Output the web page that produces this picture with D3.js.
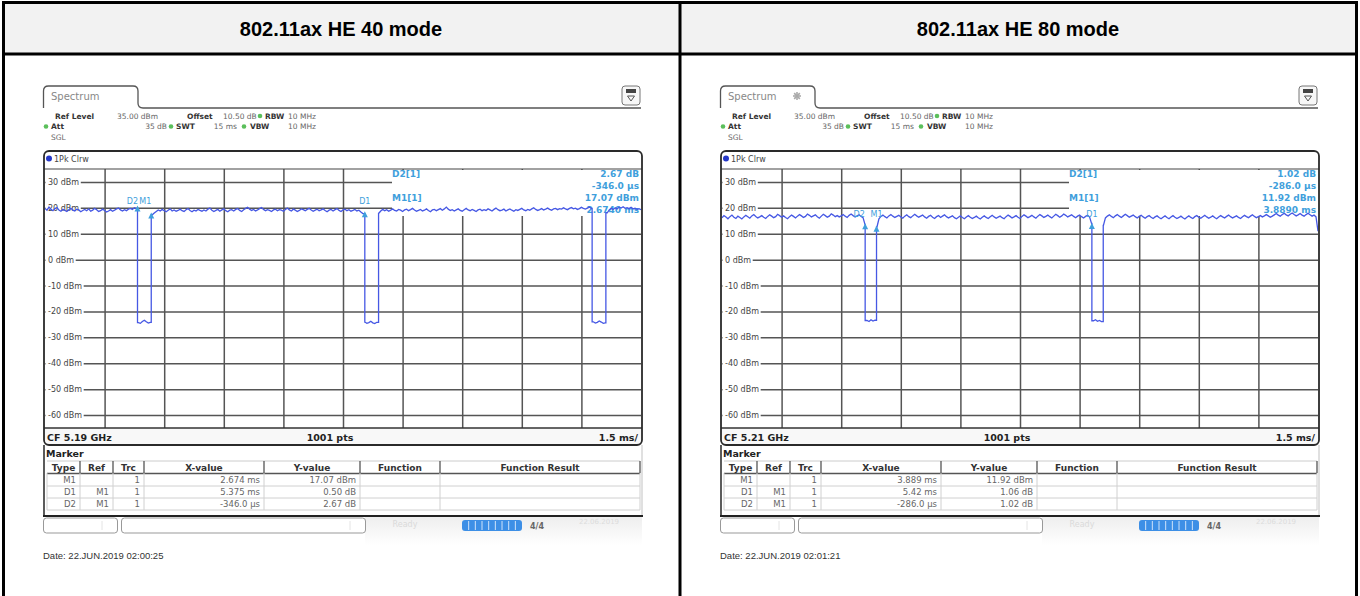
<!DOCTYPE html>
<html><head><meta charset="utf-8">
<script src="https://cdn.jsdelivr.net/npm/d3@7"></script>
<style>body{margin:0;background:#fff}svg{display:block}</style>
</head><body><svg id="c" width="1360" height="596"></svg>
<script>
// ---------------- DATA ----------------
const panelTitles = ["802.11ax HE 40 mode", "802.11ax HE 80 mode"];
const centerFreqs = ["CF 5.19 GHz", "CF 5.21 GHz"];
const pointsLabel = "1001 pts";
const timeDivLabel = "1.5 ms/";
const dateLabels = ["Date: 22.JUN.2019 02:00:25", "Date: 22.JUN.2019 02:01:21"];
const statusDates = ["22.06.2019", "22.06.2019"];
const traceLabel = "1Pk Clrw";
const settingsRow1 = [["Ref Level", "35.00 dBm"], ["Offset", "10.50 dB"], ["RBW", "10 MHz"]];
const settingsRow2 = [["Att", "35 dB"], ["SWT", "15 ms"], ["VBW", "10 MHz"]];
const sweepMs = 15;
const timeDivMs = 1.5;
const refLevelDbm = 35;
const bottomLevelDbm = -65;
const yTicks = [30, 20, 10, 0, -10, -20, -30, -40, -50, -60];
const tableHeaders = ["Type", "Ref", "Trc", "X-value", "Y-value", "Function", "Function Result"];
const markerTypes = ["M1", "D1", "D2"];
const markerRefs = ["", "M1", "M1"];
const markerTrcs = ["1", "1", "1"];
const markerXLeft = ["2.674 ms", "5.375 ms", "-346.0 µs"];
const markerYLeft = ["17.07 dBm", "0.50 dB", "2.67 dB"];
const markerXRight = ["3.889 ms", "5.42 ms", "-286.0 µs"];
const markerYRight = ["11.92 dBm", "1.06 dB", "1.02 dB"];
const markerMsLeft = [2.674, 5.375, -0.346];   // M1 absolute, D1/D2 relative to M1
const markerDbLeft = [17.07, 0.50, 2.67];
const markerMsRight = [3.889, 5.42, -0.286];
const markerDbRight = [11.92, 1.06, 1.02];
const infoLabels = ["D2[1]", "M1[1]"];
const infoLeft = ["2.67 dB", "-346.0 µs", "17.07 dBm", "2.6740 ms"];
const infoRight = ["1.02 dB", "-286.0 µs", "11.92 dBm", "3.8890 ms"];
const gapsLeft = [[2.328, 2.674], [8.049, 8.395], [13.770, 14.116]];
const gapsRight = [[3.603, 3.889], [9.309, 9.595]];
const traceStepMs = 0.05;
const traceLeft = [
19.8,19.1,20.3,19.5,18.9,19.7,20.1,19.2,18.7,19.4,19.0,18.6,19.3,19.9,19.1,18.8,19.5,19.2,18.5,19.0,
19.4,18.9,19.6,18.7,19.1,19.8,19.3,18.6,18.9,19.5,19.0,18.4,18.8,19.3,18.7,19.1,19.6,19.9,19.2,18.8,
19.3,18.9,19.5,19.8,19.4,20.0,19.7,-24.3,-24.6,-23.9,-23.4,-24.0,-24.5,-24.2,17.3,18.0,18.6,19.2,18.8,19.4,
18.9,18.5,19.1,19.6,18.8,19.2,18.7,19.0,19.5,18.9,18.6,19.3,19.7,19.0,18.5,19.1,18.8,19.4,19.0,18.7,
19.2,18.8,19.5,19.9,19.1,18.6,19.0,19.4,18.7,19.2,19.6,18.9,18.5,19.1,19.3,18.8,19.4,19.7,19.0,18.6,
19.3,19.8,20.2,19.5,19.0,19.4,18.8,19.2,19.7,20.1,19.4,18.9,19.3,19.0,18.6,19.2,19.5,18.9,19.3,19.1,
18.7,19.4,19.9,19.2,18.8,19.5,19.1,18.6,19.0,19.6,19.3,18.9,19.4,19.8,19.2,18.7,19.1,19.5,18.9,19.2,
19.6,19.0,18.5,19.1,19.4,18.8,19.3,19.7,19.0,18.6,19.2,19.5,18.9,19.3,18.7,19.0,19.4,18.8,19.1,18.4,
17.8,-24.1,-24.6,-24.3,-23.8,-24.4,-24.7,-24.2,17.9,18.8,19.4,18.9,19.3,18.7,19.1,19.6,19.0,18.8,19.4,19.1,
18.6,19.2,19.5,18.9,19.3,19.8,19.2,18.7,19.0,19.4,18.8,19.1,19.6,19.0,18.5,19.2,19.4,18.9,19.3,19.7,
19.1,19.6,20.3,19.5,19.0,19.3,18.8,19.2,19.6,19.0,18.7,19.3,19.8,19.2,18.9,19.4,19.0,18.6,19.2,19.5,
18.9,19.3,19.0,19.6,19.2,18.8,19.4,19.9,19.3,18.9,19.1,19.5,18.8,19.2,19.6,19.1,18.7,19.3,19.0,19.4,
19.8,19.2,18.9,19.4,19.1,19.6,20.0,19.4,19.0,19.3,19.7,19.2,19.5,19.9,19.4,19.1,19.6,19.8,19.3,19.7,
19.5,20.0,19.6,19.3,19.8,20.1,19.6,19.9,19.4,19.7,20.2,19.8,19.5,19.9,20.3,19.8,-24.0,-24.5,-24.2,-23.7,
-24.1,-24.6,-24.4,18.1,19.2,19.8,19.4,20.0,19.6,20.3,19.9,20.4,19.8,20.1,19.7,20.2,19.6,19.9,19.4,19.7,
19.3];
const traceRight = [
16.2,17.0,16.5,15.8,16.6,17.2,16.4,15.9,16.8,16.3,15.7,16.5,17.1,16.6,16.0,16.9,17.4,16.7,16.1,16.5,
17.0,16.4,15.9,16.7,17.3,16.8,16.2,16.6,17.5,17.0,16.4,16.9,16.3,15.8,16.6,17.2,16.7,16.1,16.8,17.4,
16.9,16.3,16.7,17.6,17.1,16.5,16.9,17.3,16.6,16.0,16.8,17.5,17.0,16.4,16.8,17.7,17.2,16.6,17.0,16.5,
16.9,17.4,16.8,16.3,17.1,17.6,17.0,16.5,16.9,17.3,16.7,16.2,13.5,-23.5,-23.9,-23.2,-23.7,-23.4,12.6,15.8,
16.7,17.2,16.6,16.1,16.9,17.4,16.8,16.3,16.7,17.1,16.5,16.0,16.8,17.3,16.6,16.2,16.9,17.5,16.9,16.4,
16.8,17.2,16.5,16.0,16.7,17.1,16.4,15.9,16.6,17.0,16.3,16.8,17.3,16.6,16.1,16.5,16.9,16.2,15.8,16.4,
16.9,16.3,15.8,16.5,17.0,16.4,15.9,16.3,16.8,16.2,15.7,16.4,16.9,16.3,15.9,16.6,17.1,16.5,16.0,16.4,
16.8,16.2,15.8,16.6,17.2,16.7,16.1,16.5,17.0,16.4,15.9,16.7,17.3,16.8,16.2,16.6,17.1,16.5,16.0,16.8,
17.4,16.9,16.3,16.7,17.2,16.6,16.1,16.8,17.5,17.0,16.4,16.9,17.6,17.1,16.5,16.9,17.3,16.7,16.2,16.8,
17.2,16.6,16.1,16.7,17.1,16.5,14.0,-23.6,-23.2,-23.8,-23.5,-23.9,13.2,16.1,16.8,17.3,16.7,16.2,16.9,17.4,
16.8,16.3,16.9,17.5,17.0,16.4,16.8,17.2,16.6,16.1,16.7,17.1,16.5,16.0,16.6,17.0,16.4,15.9,16.5,16.9,
16.3,15.8,16.4,16.9,16.3,15.8,16.5,17.0,16.4,15.9,16.3,16.8,16.2,15.7,16.4,16.9,16.3,15.9,16.6,17.0,
16.4,16.0,16.6,17.1,16.5,16.0,16.4,16.9,16.3,15.8,16.5,17.0,16.5,16.1,16.7,17.2,16.6,16.1,16.5,16.9,
16.3,15.9,16.6,17.1,16.6,16.2,16.8,17.3,16.7,16.2,16.6,17.0,16.5,16.9,17.4,16.9,16.4,16.8,17.3,17.8,
17.2,16.8,17.4,17.9,17.3,16.9,17.5,18.0,17.4,16.9,17.3,17.8,17.2,16.8,17.4,17.9,17.3,16.8,17.2,16.5,
11.0];

const panels = [
  {dx: 0, title: panelTitles[0], cf: centerFreqs[0], date: dateLabels[0], sdate: statusDates[0], levels: traceLeft, gaps: gapsLeft,
   ms: markerMsLeft, db: markerDbLeft, xv: markerXLeft, yv: markerYLeft, info: infoLeft, star: false, labelDx: [-6, 0, -5]},
  {dx: 677, title: panelTitles[1], cf: centerFreqs[1], date: dateLabels[1], sdate: statusDates[1], levels: traceRight, gaps: gapsRight,
   ms: markerMsRight, db: markerDbRight, xv: markerXRight, yv: markerYRight, info: infoRight, star: true, labelDx: [0, 0, -6]}
];

// ---------------- DRAW ----------------
const svg = d3.select("#c");
const UI = '"DejaVu Sans", Verdana, sans-serif';
const ARIAL = '"Liberation Sans", Arial, sans-serif';
const BLUE = "#3f9fdc";
const TRACE = "#4658e4";

function txt(g, x, y, s, o = {}) {
  return g.append("text").attr("x", x).attr("y", y).text(s)
    .attr("font-family", o.ff || UI).attr("font-size", o.fs || 8)
    .attr("font-weight", o.fw || "normal").attr("fill", o.fill || "#444")
    .attr("text-anchor", o.anchor || "start").attr("dominant-baseline", "central");
}

// outer table
svg.append("rect").attr("width", 1360).attr("height", 596).attr("fill", "#fff");
svg.append("rect").attr("x", 3).attr("y", 3).attr("width", 1354).attr("height", 50).attr("fill", "#f2f2f2");
const bl = svg.append("g").attr("stroke", "#000").attr("stroke-width", 3);
bl.append("line").attr("x1", 2).attr("x2", 1358).attr("y1", 2.5).attr("y2", 2.5);
bl.append("line").attr("x1", 2).attr("x2", 1358).attr("y1", 54).attr("y2", 54);
bl.append("line").attr("x1", 3.5).attr("x2", 3.5).attr("y1", 1).attr("y2", 596);
bl.append("line").attr("x1", 680).attr("x2", 680).attr("y1", 1).attr("y2", 596);
bl.append("line").attr("x1", 1356.5).attr("x2", 1356.5).attr("y1", 1).attr("y2", 596);

panels.forEach((p, pi) => {
  txt(svg, pi === 0 ? 341 : 1018, 29, p.title, {ff: ARIAL, fs: 20, fw: "bold", fill: "#000", anchor: "middle"});

  const g = svg.append("g").attr("transform", `translate(${p.dx},0)`);
  const X0 = 45, X1 = 641, Y0 = 169, Y1 = 428;
  const x = d3.scaleLinear().domain([0, sweepMs]).range([X0, X1]);
  const y = d3.scaleLinear().domain([bottomLevelDbm, refLevelDbm]).range([Y1, Y0]);

  // tab
  g.append("path").attr("d", "M43.5,108 V91 Q43.5,86 48.5,86 H133 Q138,86 138,91 V103 Q138,108 143,108 H641")
    .attr("fill", "none").attr("stroke", "#555").attr("stroke-width", 1.3);
  txt(g, 51, 96, "Spectrum", {fs: 10, fill: "#888"});
  if (p.star) {
    const s = g.append("g").attr("transform", "translate(120,96)").attr("stroke", "#aaa").attr("stroke-width", 1.6);
    [0, 45, 90, 135].forEach(a => s.append("line").attr("x1", -4).attr("x2", 4).attr("transform", `rotate(${a})`));
  }
  // icon
  g.append("rect").attr("x", 622).attr("y", 86).attr("width", 18).attr("height", 19).attr("rx", 3)
    .attr("fill", "#f7f7f7").attr("stroke", "#777");
  g.append("rect").attr("x", 626).attr("y", 89).attr("width", 10).attr("height", 4).attr("fill", "#444");
  g.append("path").attr("d", "M627.5,96 H634.5 L631,101 Z").attr("fill", "none").attr("stroke", "#555");

  // settings
  const dot = (cx, cy) => g.append("circle").attr("cx", cx).attr("cy", cy).attr("r", 2.3).attr("fill", "#5bbf5b");
  const r1 = 116, r2 = 126.5, sf = 7.5;
  const l1 = [55, 187, 265], v1 = [117, 223, 288];
  settingsRow1.forEach((d, i) => { txt(g, l1[i], r1, d[0], {fs: sf, fw: "bold", fill: "#333"}); txt(g, v1[i], r1, d[1], {fs: sf, fill: "#666"}); });
  dot(260, r1);
  const l2 = [51, 176, 250], v2 = [167, 237, 288], a2 = ["end", "end", "start"];
  settingsRow2.forEach((d, i) => { txt(g, l2[i], r2, d[0], {fs: sf, fw: "bold", fill: "#333"}); txt(g, v2[i], r2, d[1], {fs: sf, fill: "#666", anchor: a2[i]}); });
  dot(46, r2); dot(171, r2); dot(244, r2);
  txt(g, 51, 137.5, "SGL", {fs: sf, fill: "#666"});

  // graph area
  g.append("rect").attr("x", 44).attr("y", 151).attr("width", 598).attr("height", 294).attr("fill", "#fff");
  g.append("circle").attr("cx", 49).attr("cy", 158.5).attr("r", 3).attr("fill", "#2638c8");
  txt(g, 54, 159, traceLabel, {fill: "#444"});

  // vertical grid
  const divs = d3.range(timeDivMs, sweepMs - 0.01, timeDivMs);
  const xg = g.append("g").attr("transform", `translate(0,${Y1})`)
    .call(d3.axisBottom(x).tickValues(divs).tickSize(-(Y1 - Y0)).tickFormat(""));
  xg.select(".domain").remove();
  xg.selectAll("line").attr("stroke", "#555").attr("stroke-width", 1.5);

  // horizontal grid with labels
  const yg = g.append("g").attr("transform", `translate(${X0},0)`)
    .call(d3.axisLeft(y).tickValues(yTicks).tickSize(-(X1 - X0)).tickFormat(d => `${d} dBm`));
  yg.select(".domain").remove();
  yg.selectAll("line").attr("stroke", "#555").attr("stroke-width", 1.5);

  g.append("line").attr("x1", 44).attr("x2", 642).attr("y1", Y0).attr("y2", Y0).attr("stroke", "#444").attr("stroke-width", 1.2);

  // marker info box
  g.append("rect").attr("x", 392).attr("y", Y0 + 1).attr("width", X1 - 392).attr("height", 46).attr("fill", "#fff");
  txt(g, 392, 173.5, infoLabels[0], {fw: "bold", fs: 9, fill: BLUE});
  txt(g, 392, 197.5, infoLabels[1], {fw: "bold", fs: 9, fill: BLUE});
  [173.5, 185.5, 197.5, 209.5].forEach((yy, i) => txt(g, 639, yy, p.info[i], {fw: "bold", fs: 9, fill: BLUE, anchor: "end"}));

  // y labels (inside plot, white background)
  yg.selectAll(".tick text").each(function () {
    d3.select(this).attr("x", 3).attr("dy", null).attr("dominant-baseline", "central").attr("text-anchor", "start")
      .attr("font-family", UI).attr("font-size", 8).attr("fill", "#444");
  });
  yg.selectAll(".tick").each(function () {
    const tk = d3.select(this);
    const bb = tk.select("text").node().getBBox();
    tk.insert("rect", "text").attr("x", 0.5).attr("y", bb.y).attr("width", bb.x + bb.width + 1).attr("height", bb.height).attr("fill", "#fff");
  });

  // trace
  const pts = [];
  p.levels.forEach((v, i) => {
    const t = i * traceStepMs;
    if (i > 0) {
      const tp = (i - 1) * traceStepMs;
      p.gaps.forEach(([gs, ge]) => {
        if (gs > tp && gs <= t) { pts.push([gs, p.levels[i - 1]]); pts.push([gs, v]); }
        if (ge > tp && ge <= t) { pts.push([ge, p.levels[i - 1]]); pts.push([ge, v]); }
      });
    }
    pts.push([t, v]);
  });
  const clipId = "clip" + pi;
  g.append("clipPath").attr("id", clipId).append("rect").attr("x", X0).attr("y", Y0).attr("width", X1 - X0).attr("height", Y1 - Y0);
  g.append("path").datum(pts).attr("clip-path", `url(#${clipId})`)
    .attr("d", d3.line().x(d => x(d[0])).y(d => y(d[1])))
    .attr("fill", "none").attr("stroke", TRACE).attr("stroke-width", 1.3);

  // markers on trace
  const mk = [
    {name: "M1", t: p.ms[0], lv: p.db[0]},
    {name: "D1", t: p.ms[0] + p.ms[1], lv: p.db[0] + p.db[1]},
    {name: "D2", t: p.ms[0] + p.ms[2], lv: p.db[0] + p.db[2]}
  ];
  const labelY = y(p.db[0]) - 14;
  mk.forEach((m, i) => {
    const mx = x(m.t), my = y(m.lv);
    g.append("path").attr("d", `M${mx},${my - 3} L${mx + 3},${my + 3} L${mx - 3},${my + 3} Z`).attr("fill", BLUE);
    txt(g, mx + p.labelDx[i], labelY, m.name, {fs: 8, fill: BLUE, anchor: "middle"});
  });

  // bottom grid line & CF bar
  g.append("rect").attr("x", 45).attr("y", Y1).attr("width", 596).attr("height", 16).attr("fill", "#f8f8f8");
  g.append("line").attr("x1", 44).attr("x2", 642).attr("y1", Y1).attr("y2", Y1).attr("stroke", "#333").attr("stroke-width", 1.6);
  txt(g, 47, 437, p.cf, {fw: "bold", fs: 9.5, fill: "#222"});
  txt(g, 330, 437, pointsLabel, {fw: "bold", fs: 9.5, fill: "#222", anchor: "middle"});
  txt(g, 638, 437, timeDivLabel, {fw: "bold", fs: 9.5, fill: "#222", anchor: "end"});

  // graph frame
  g.append("rect").attr("x", 44).attr("y", 151).attr("width", 598).attr("height", 294).attr("rx", 5)
    .attr("fill", "none").attr("stroke", "#2a2a2a").attr("stroke-width", 1.8);

  // marker table
  g.append("line").attr("x1", 44).attr("x2", 44).attr("y1", 445).attr("y2", 516).attr("stroke", "#333").attr("stroke-width", 1.6);
  g.append("line").attr("x1", 642).attr("x2", 642).attr("y1", 445).attr("y2", 516).attr("stroke", "#ccc").attr("stroke-width", 1.2);
  g.append("line").attr("x1", 43).attr("x2", 643).attr("y1", 516).attr("y2", 516).attr("stroke", "#222").attr("stroke-width", 2);
  txt(g, 46, 453.5, "Marker", {fw: "bold", fs: 9.5, fill: "#222"});
  const cols = [47, 80, 113, 144, 264, 360, 440, 640];
  g.append("line").attr("x1", 47).attr("x2", 640).attr("y1", 461).attr("y2", 461).attr("stroke", "#ccc");
  g.append("line").attr("x1", 47).attr("x2", 640).attr("y1", 473.5).attr("y2", 473.5).attr("stroke", "#555").attr("stroke-width", 1.6);
  [486, 498, 510].forEach(yy => g.append("line").attr("x1", 47).attr("x2", 640).attr("y1", yy).attr("y2", yy).attr("stroke", "#d0d0d0"));
  cols.forEach((cx, i) => {
    g.append("line").attr("x1", cx).attr("x2", cx).attr("y1", 473).attr("y2", 510).attr("stroke", "#d0d0d0");
    if (i > 0) g.append("line").attr("x1", cx).attr("x2", cx).attr("y1", 461).attr("y2", 473).attr("stroke", "#555").attr("stroke-width", 1.3);
  });
  tableHeaders.forEach((h, i) => txt(g, (cols[i] + cols[i + 1]) / 2, 467.5, h, {fw: "bold", fs: 9, fill: "#333", anchor: "middle"}));
  const rowsY = [480, 492, 504];
  markerTypes.forEach((m, r) => {
    const cells = [m, markerRefs[r], markerTrcs[r], p.xv[r], p.yv[r]];
    cells.forEach((c, i) => txt(g, cols[i + 1] - 4, rowsY[r], c, {fs: 8.5, fill: "#666", anchor: "end"}));
  });

  // status bar
  const grad = g.append("defs").append("linearGradient").attr("id", "sg" + pi).attr("x1", 0).attr("x2", 0).attr("y1", 0).attr("y2", 1);
  grad.append("stop").attr("offset", 0).attr("stop-color", "#eeeeee");
  grad.append("stop").attr("offset", 1).attr("stop-color", "#ffffff");
  g.append("rect").attr("x", 365).attr("y", 517).attr("width", 277).attr("height", 28).attr("fill", `url(#sg${pi})`);
  g.append("rect").attr("x", 43.5).attr("y", 518).attr("width", 74).attr("height", 15).attr("rx", 3).attr("fill", "#fff").attr("stroke", "#999");
  g.append("rect").attr("x", 121.5).attr("y", 518).attr("width", 244).attr("height", 15).attr("rx", 3).attr("fill", "#fff").attr("stroke", "#999");
  g.append("line").attr("x1", 102).attr("x2", 102).attr("y1", 521).attr("y2", 530).attr("stroke", "#e4e4e4");
  g.append("line").attr("x1", 350).attr("x2", 350).attr("y1", 521).attr("y2", 530).attr("stroke", "#e4e4e4");
  txt(g, 405, 524, "Ready", {fs: 8, fill: "#dadada", anchor: "middle"});
  g.append("rect").attr("x", 462).attr("y", 520).attr("width", 60).attr("height", 11).attr("rx", 3).attr("fill", "#3d8fe6");
  d3.range(1, 9).forEach(k => g.append("line").attr("x1", 462 + k * 6.67).attr("x2", 462 + k * 6.67).attr("y1", 521).attr("y2", 530).attr("stroke", "#cfe3fa").attr("stroke-width", 1));
  txt(g, 537, 526, "4/4", {fs: 8, fw: "bold", fill: "#666", anchor: "middle"});
  txt(g, 599, 522, p.sdate, {fs: 7, fill: "#dcdcdc", anchor: "middle"});

  // date
  txt(g, 43, 555.5, p.date, {ff: ARIAL, fs: 9.5, fill: "#333"});
});
</script></body></html>
